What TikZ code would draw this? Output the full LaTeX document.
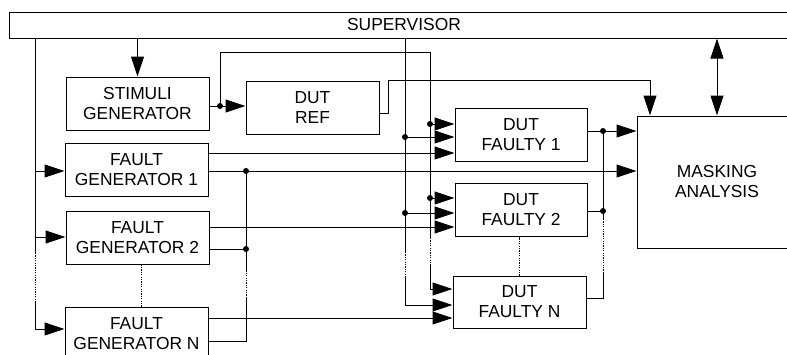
\documentclass[tikz,border=0pt]{standalone}
\usepackage{fontspec}
\setmainfont{Liberation Sans}
\usetikzlibrary{arrows.meta,calc}
\begin{document}
\begin{tikzpicture}[x=1pt,y=-1pt,
  box/.style={draw,line width=1pt,rectangle,inner sep=0pt,align=center,font=\fontsize{17.4}{20}\selectfont},
  wire/.style={line width=1pt},
  arr/.style={wire,-{Triangle[length=20pt,width=13pt]}},
  dotline/.style={line width=1pt,dash pattern=on 1.2pt off 1.2pt},
  jdot/.style={circle,fill,inner sep=0pt,minimum size=6pt}]
\useasboundingbox (0,0) rectangle (787,354);
\clip (0,0) rectangle (787,354);

% boxes
\node[box,minimum width=790pt,minimum height=26pt] (sup) at (404,25) {SUPERVISOR};
\node[box,minimum width=143pt,minimum height=53pt] (stim) at (137.5,103.5) {STIMULI\\GENERATOR};
\node[box,minimum width=133pt,minimum height=53pt] (ref) at (312.5,107.5) {DUT\\REF};
\node[box,minimum width=143pt,minimum height=53pt] (fg1) at (136.5,169.5) {FAULT\\GENERATOR 1};
\node[box,minimum width=143pt,minimum height=53pt] (fg2) at (137.5,237.5) {FAULT\\GENERATOR 2};
\node[box,minimum width=143pt,minimum height=53pt] (fgN) at (136.5,333.5) {FAULT\\GENERATOR N};
\node[box,minimum width=132pt,minimum height=53pt] (f1) at (521,134.5) {DUT\\FAULTY 1};
\node[box,minimum width=132pt,minimum height=53pt] (f2) at (521,209.5) {DUT\\FAULTY 2};
\node[box,minimum width=133pt,minimum height=52pt] (fN) at (519.5,302) {DUT\\FAULTY N};
\node[box,minimum width=160pt,minimum height=132pt] (mask) at (717,182) {MASKING\\ANALYSIS};

% coordinates
\coordinate (dS) at (220,106);
\coordinate (cS) at (430,52);
\coordinate (dS1) at (430,124);
\coordinate (dS2) at (430,198);
\coordinate (sS) at (430,238);
\coordinate (sE) at (430,265);
\coordinate (bS) at (430,289);

\coordinate (dP1) at (405,137);
\coordinate (dP2) at (405,213);
\coordinate (pS) at (405,252);
\coordinate (pE) at (405,277);
\coordinate (bP) at (405,305);

\coordinate (dF1) at (246,171);
\coordinate (dF2) at (246,249);
\coordinate (qS) at (246,270);
\coordinate (qE) at (246,298);
\coordinate (bF) at (246,341);

\coordinate (dO1) at (603,131);
\coordinate (dO2) at (603,211);
\coordinate (oS) at (603,219);
\coordinate (oE) at (603,272);
\coordinate (bO) at (603,298);

\coordinate (r1) at (388,113);
\coordinate (r2) at (388,80);
\coordinate (r3) at (650,80);

\coordinate (L1) at (35,171);
\coordinate (L2) at (35,237);
\coordinate (Ls) at (35,253);
\coordinate (Le) at (35,302);
\coordinate (L3) at (35,329);

% supervisor -> stimuli
\draw[arr] (sup.south -| stim.north) -- (stim.north);

% stimuli bus
\draw[wire] (stim.east |- dS) -- (dS);
\draw[arr] (dS) -- (ref.west |- dS);
\draw[wire] (dS) |- (cS) -- (sS);
\draw[dotline] (sS) -- (sE);
\draw[wire] (sE) -- (bS);
\draw[arr] (bS) -- (fN.west |- bS);
\draw[arr] (dS1) -- (f1.west |- dS1);
\draw[arr] (dS2) -- (f2.west |- dS2);

% supervisor bus to DUTs
\draw[wire] (sup.south -| dP1) -- (pS);
\draw[dotline] (pS) -- (pE);
\draw[wire] (pE) -- (bP);
\draw[arr] (bP) -- (fN.west |- bP);
\draw[arr] (dP1) -- (f1.west |- dP1);
\draw[arr] (dP2) -- (f2.west |- dP2);

% fault generators
\draw[arr] (fg1.east |- 0,153) -- (f1.west |- 0,153);
\draw[wire] (fg1.east |- dF1) -- (dF1);
\draw[arr] (dF1) -- (mask.west |- dF1);
\draw[arr] (fg2.east |- 0,227) -- (f2.west |- 0,227);
\draw[wire] (fg2.east |- dF2) -- (dF2);
\draw[arr] (fgN.east |- 0,318) -- (fN.west |- 0,318);
\draw[wire] (fgN.east |- bF) -- (bF) -- (qE);
\draw[dotline] (qE) -- (qS);
\draw[wire] (qS) -- (dF1);

% DUT outputs
\draw[wire] (f1.east |- dO1) -- (dO1);
\draw[arr] (dO1) -- (mask.west |- dO1);
\draw[wire] (f2.east |- dO2) -- (dO2);
\draw[wire] (dO1) -- (oS);
\draw[dotline] (oS) -- (oE);
\draw[wire] (oE) -- (bO) -- (fN.east |- bO);

% DUT REF output
\draw[wire] (ref.east |- r1) -- (r1) -- (r2) -- (r3);
\draw[arr] (r3) -- (mask.north -| r3);

% supervisor <-> masking
\draw[wire,{Triangle[length=20pt,width=13pt]}-{Triangle[length=20pt,width=13pt]}] (sup.south -| mask.north) -- (mask.north);

% left bus
\draw[wire] (sup.south -| L1) -- (Ls);
\draw[dotline] (Ls) -- (Le);
\draw[wire] (Le) -- (L3);
\draw[arr] (L1) -- (fg1.west |- L1);
\draw[arr] (L2) -- (fg2.west |- L2);
\draw[arr] (L3) -- (fgN.west |- L3);

% dotted separators
\draw[dotline] ($(fg2.south)+(3.5,0)$) -- ($(fgN.north)+(4.5,0)$);
\draw[dotline] (fN.north) -- (fN.north |- f2.south);

% junction dots
\foreach \p in {dS,dS1,dS2,dP1,dP2,dF1,dF2,dO1,dO2}
  \fill (\p) circle (3pt);
\end{tikzpicture}
\end{document}
